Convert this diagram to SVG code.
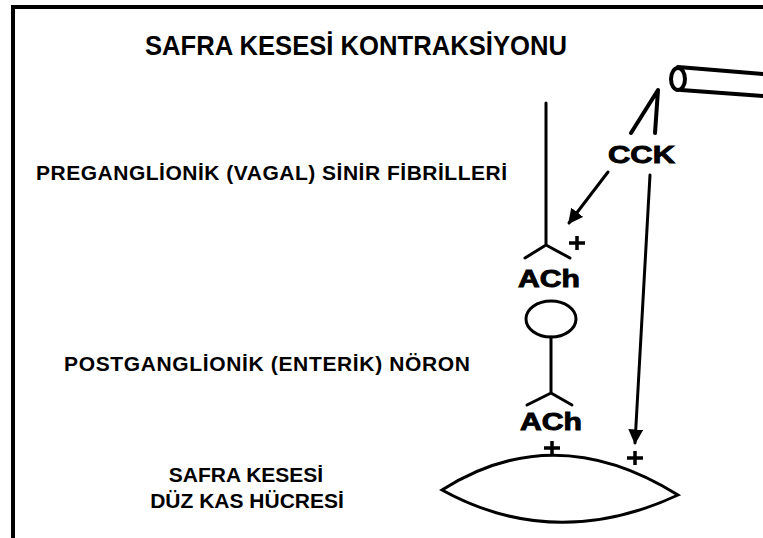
<svg xmlns="http://www.w3.org/2000/svg" width="763" height="538" viewBox="0 0 763 538">
  <defs>
    <style>
      .frame { fill: none; stroke: #000; stroke-width: 4; }
      .line { fill: none; stroke: #000; stroke-width: 3; stroke-linecap: round; stroke-linejoin: round; }
      .thick { fill: none; stroke: #000; stroke-width: 4; stroke-linecap: round; stroke-linejoin: round; }
      .label { font-family: "Liberation Sans", Arial, sans-serif; font-weight: bold; fill: #000; }
      .chem { font-family: "Liberation Sans", Arial, sans-serif; font-weight: bold; fill: #000; stroke: #000; stroke-width: 0.9; font-size: 24px; }
      .cell { fill: #fff; stroke: #000; stroke-width: 3; }
    </style>
    <marker id="arrow" viewBox="0 0 10 10" refX="9" refY="5" markerWidth="5" markerHeight="5" orient="auto" markerUnits="strokeWidth">
      <path d="M0,0 L10,5 L0,10 z" fill="#000"/>
    </marker>
    <g id="plus">
      <path d="M-8,0 H8 M0,-7 V7" stroke="#000" stroke-width="3.5" fill="none"/>
    </g>
  </defs>

  <rect width="763" height="538" fill="#fff"/>
  <!-- frame: top and left edges only -->
  <path class="frame" d="M13,538 V7 H763"/>

  <text class="label" x="145" y="55" font-size="28" textLength="422" lengthAdjust="spacingAndGlyphs">SAFRA KESESİ KONTRAKSİYONU</text>

  <g id="label-preganglionic">
    <text class="label" x="36" y="180" font-size="21" textLength="471">PREGANGLİONİK (VAGAL) SİNİR FİBRİLLERİ</text>
  </g>
  <g id="label-postganglionic">
    <text class="label" x="64" y="371" font-size="21" textLength="406">POSTGANGLİONİK (ENTERİK) NÖRON</text>
  </g>
  <g id="label-muscle">
    <text class="label" x="246" y="482" font-size="21" text-anchor="middle">SAFRA KESESİ</text>
    <text class="label" x="247" y="508" font-size="21" text-anchor="middle">DÜZ KAS HÜCRESİ</text>
  </g>

  <!-- CCK source vessel -->
  <g id="vessel">
    <path class="thick" d="M678,67 L763,74 M681,90 L763,96"/>
    <ellipse cx="678" cy="79" rx="7" ry="11" fill="#fff" stroke="#000" stroke-width="4"/>
  </g>

  <g id="cck">
    <text class="chem" x="608" y="163" textLength="67" lengthAdjust="spacingAndGlyphs">CCK</text>
  </g>

  <!-- preganglionic fibre ending -->
  <g id="preganglionic-fibre">
    <path class="line" d="M546,103 V245 M525,258 L546,245 L570,258"/>
    <use href="#plus" x="577" y="243"/>
    <text class="chem" x="518" y="287" textLength="62" lengthAdjust="spacingAndGlyphs">ACh</text>
  </g>

  <!-- postganglionic (enteric) neuron -->
  <g id="enteric-neuron">
    <ellipse cx="551" cy="319" rx="25" ry="18" class="cell"/>
    <path class="line" d="M551,337 V393 M527,405 L551,393 L572,405"/>
    <text class="chem" x="520" y="430" textLength="62" lengthAdjust="spacingAndGlyphs">ACh</text>
  </g>

  <!-- gallbladder smooth muscle cell -->
  <g id="muscle-cell">
    <path class="cell" d="M442,490 Q555,418 678,495 Q555,552 442,490 Z"/>
    <use href="#plus" x="552" y="448"/>
    <use href="#plus" x="635" y="458"/>
  </g>

  <g id="connectors">
    <path class="thick" d="M631,133 L658,90 L655,133"/>
    <path class="line" d="M608,172 L569,223" stroke-width="3.5" marker-end="url(#arrow)"/>
    <path class="line" d="M650,175 L635,443" marker-end="url(#arrow)"/>
  </g>
</svg>
